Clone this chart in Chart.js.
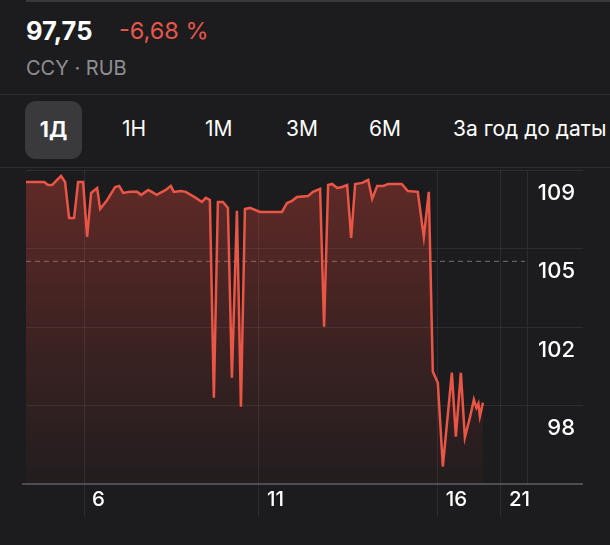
<!DOCTYPE html>
<html>
<head>
<meta charset="utf-8">
<script src="https://cdn.jsdelivr.net/npm/chart.js@4"></script>
<style>
  html, body { margin:0; padding:0; background:#1c1c1e; width:610px; height:545px; overflow:hidden; font-family:Inter, "Noto Sans", sans-serif; }
  .topline { position:absolute; left:26px; right:0; top:0; height:2px; background:#39393c; }
  .price { position:absolute; left:26px; top:15px; font-size:25.5px; font-weight:700; color:#fff; }
  .chg { position:absolute; left:119px; top:16px; font-size:23.5px; color:#e5564b; }
  .sym { position:absolute; left:26px; top:56px; font-size:20px; color:#8e8e93; }
  .sep { position:absolute; left:0; right:0; height:1px; background:#2f2f32; }
  .tab { position:absolute; top:116px; font-size:21px; color:#fff; }
  .tab.sel { left:25px; top:101px; width:57px; height:58px; border-radius:11px; background:#3a3a3c; font-weight:700; line-height:58px; text-align:center; }
  #wrap { position:absolute; left:0; top:160px; width:610px; height:385px; }
</style>
</head>
<body>
<div class="topline"></div>
<div class="price">97,75</div>
<div class="chg">-6,68 %</div>
<div class="sym">CCY · RUB</div>
<div class="sep" style="top:94px"></div>
<div class="tab sel">1Д</div>
<div class="tab" style="left:122px">1Н</div>
<div class="tab" style="left:205px">1М</div>
<div class="tab" style="left:286px">3М</div>
<div class="tab" style="left:369px">6М</div>
<div class="tab" style="left:453px">За год до даты</div>
<div class="sep" style="top:167px"></div>
<div id="wrap"><canvas id="c" width="610" height="385"></canvas></div>
<script>
// ── DATA ─────────────────────────────────────────
// session time in % of the day, price in RUB
const times = [0,3.6,4.4,5.2,6.2,7.0,7.8,8.6,9.6,10.4,11.4,12.2,13.0,14.2,14.8,16.2,17.8,18.6,19.4,20.8,
  22.2,23.0,24.4,25.1,26.1,27.9,28.9,29.5,30.9,31.9,33.9,35.1,35.9,36.7,37.5,38.3,39.3,40.3,41.1,42.1,
  42.9,43.7,44.7,46.7,51.1,52.1,53.1,54.1,56.3,57.3,58.7,59.5,60.3,61.1,62.1,63.1,64.1,64.9,65.7,67.1,
  68.3,69.1,70.1,71.3,72.3,75.0,76.2,78.2,79.4,80.4,81.2,82.2,83.2,85.0,85.8,86.8,87.6,88.6,89.4,89.9,
  90.3,90.6,91.2];
const prices = [108.46,108.46,108.32,108.32,108.56,108.74,108.46,106.78,106.78,108.46,108.46,105.89,107.95,108.18,107.20,107.62,108.23,108.28,107.95,108.0,
  108.0,107.86,108.09,108.0,107.86,108.09,108.28,108.0,108.04,108.0,107.72,107.53,107.72,107.62,98.37,107.53,107.53,107.25,99.31,107.11,
  97.95,107.20,107.25,107.06,107.06,107.48,107.58,107.76,107.81,108.0,108.14,101.69,108.32,108.37,108.18,108.23,108.32,105.85,108.37,108.42,
  108.56,107.67,108.28,108.28,108.37,108.37,108.04,108.0,105.89,108.0,99.59,99.07,95.15,99.54,96.55,99.54,96.51,97.44,98.28,97.9,
  98.1,97.5,98.14];
const prevClose = 104.75;

const xTickPos    = [11.6, 46.5, 82.2, 94.8];
const xTickLabels = ['6', '11', '16', '21'];
const yTickPos    = [94.333, 98, 101.667, 105.333, 109];
const yTickLabels = ['', '98', '102', '105', '109'];

// ── CHART ────────────────────────────────────────
const baseline = {
  id: 'baseline',
  afterDraw(chart) {
    const { ctx, chartArea: a } = chart;
    ctx.save();
    ctx.strokeStyle = '#5c5c60';
    ctx.lineWidth = 1.5;
    ctx.beginPath();
    ctx.moveTo(a.left - 4, a.bottom);
    ctx.lineTo(a.right + 56, a.bottom);
    ctx.stroke();
    ctx.restore();
  }
};

const fillGrad = ctx => {
  const a = ctx.chart.chartArea;
  if (!a) return 'rgba(230,70,58,0.2)';
  const g = ctx.chart.ctx.createLinearGradient(0, a.top, 0, a.bottom);
  g.addColorStop(0, 'rgba(230,70,58,0.34)');
  g.addColorStop(0.55, 'rgba(230,70,58,0.16)');
  g.addColorStop(1, 'rgba(230,70,58,0.03)');
  return g;
};

const gridCol = 'rgba(255,255,255,0.08)';

new Chart(document.getElementById('c'), {
  type: 'line',
  data: {
    datasets: [
      {
        data: times.map((t, i) => ({ x: t, y: prices[i] })),
        borderColor: '#eb5545', borderWidth: 2.5,
        backgroundColor: fillGrad, fill: 'start',
        pointRadius: 0, tension: 0, borderJoinStyle: 'miter'
      },
      {
        data: [{ x: 0, y: prevClose }, { x: 99.6, y: prevClose }],
        borderColor: 'rgba(255,255,255,0.38)', borderWidth: 1,
        borderDash: [5, 4], pointRadius: 0, fill: false
      }
    ]
  },
  options: {
    responsive: false, animation: false,
    layout: { padding: { left: 26, top: 10.5, right: 35, bottom: 0 } },
    plugins: { legend: { display: false }, tooltip: { enabled: false } },
    scales: {
      x: {
        type: 'linear', min: 0, max: 100,
        afterBuildTicks: s => { s.ticks = xTickPos.map(v => ({ value: v })); },
        afterFit: s => { s.height = 61; s.paddingLeft = 0; s.paddingRight = 0; },
        grid: { color: gridCol, tickLength: 33, drawTicks: true },
        border: { display: false },
        ticks: {
          color: '#fff', font: { family: 'Inter', size: 20.5, weight: '500' },
          align: 'start', labelOffset: 8, padding: -29, maxRotation: 0, autoSkip: false,
          callback: (v, i) => xTickLabels[i]
        }
      },
      y: {
        position: 'right', min: yTickPos[0], max: yTickPos[yTickPos.length - 1],
        afterBuildTicks: s => { s.ticks = yTickPos.map(v => ({ value: v })); },
        afterFit: s => { s.width = 48; s.paddingTop = 0; s.paddingBottom = 0; },
        grid: { color: gridCol, tickLength: 56, drawTicks: true },
        border: { display: true, color: gridCol },
        ticks: {
          color: '#fff', font: { family: 'Inter', size: 22, weight: '500' },
          crossAlign: 'far', padding: 0, labelOffset: 23, autoSkip: false,
          callback: (v, i) => yTickLabels[i]
        }
      }
    }
  },
  plugins: [baseline]
});
</script>
</body>
</html>
